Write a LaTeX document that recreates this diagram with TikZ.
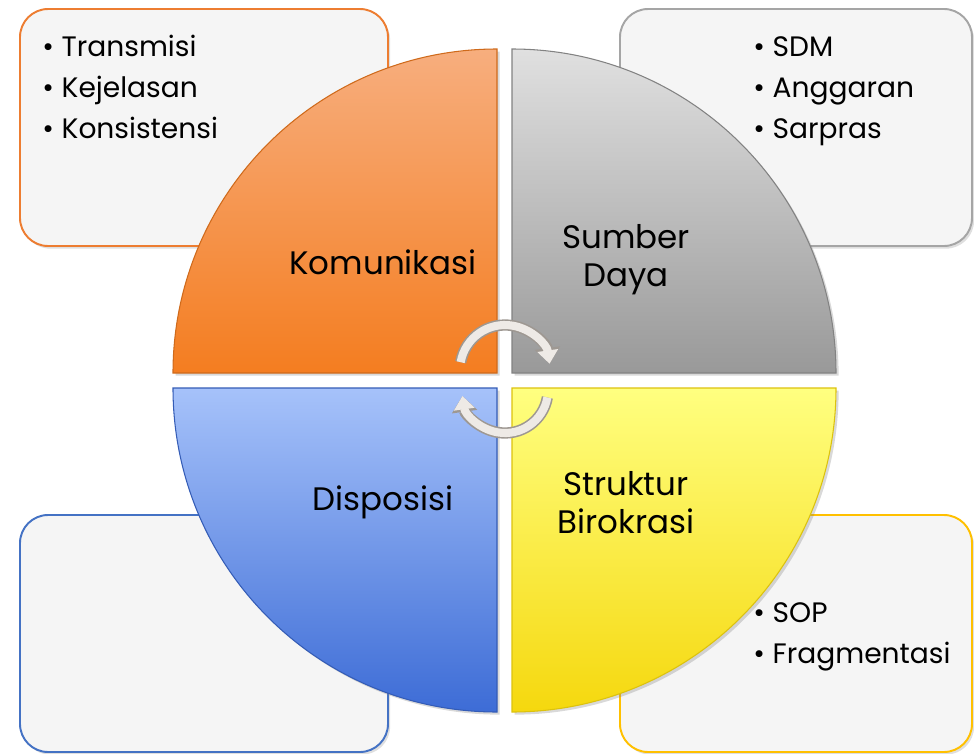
\documentclass[tikz,border=0pt]{standalone}
\usepackage{fontspec}
\setmainfont{Poppins}
\usetikzlibrary{arrows.meta,shadows}
\definecolor{boxfill}{HTML}{F5F5F5}
\definecolor{orB}{HTML}{ED7D31}
\definecolor{grB}{HTML}{A5A5A5}
\definecolor{blB}{HTML}{4472C4}
\definecolor{yeB}{HTML}{FFC000}
\definecolor{orT}{HTML}{F7AE7E}
\definecolor{orD}{HTML}{F47D20}
\definecolor{grT}{HTML}{E0E0E0}
\definecolor{grD}{HTML}{999999}
\definecolor{blT}{HTML}{A6C2FA}
\definecolor{blD}{HTML}{3D6CD6}
\definecolor{yeT}{HTML}{FFFF80}
\definecolor{yeD}{HTML}{F5D80E}
\definecolor{arrF}{HTML}{EEEAE6}
\definecolor{arrO}{HTML}{9E9892}
\tikzset{
  sidebox/.style={fill=boxfill, line width=1.1pt, rounded corners=16pt,
    drop shadow={opacity=0.25, shadow xshift=1.2pt, shadow yshift=-1.5pt}},
  wedge/.style={line width=0.6pt, drop shadow={opacity=0.3, shadow xshift=1.5pt, shadow yshift=-1.5pt}},
  lbl/.style={font=\fontsize{18.5}{21.6}\selectfont, align=center, inner sep=0pt, text=black},
  item/.style={font=\fontsize{16}{21.6}\selectfont, anchor=base west, inner sep=0pt, text=black},
  arrout/.style={line width=6.4pt, draw=arrO, -{Triangle[length=9pt,width=14pt,fill=arrO]}},
  arrin/.style={line width=4.6pt, draw=arrF, -{Triangle[length=7.6pt,width=11.5pt,fill=arrF]}}
}
\newcommand{\itm}[1]{\makebox[11pt][l]{•}#1}
\begin{document}
\begin{tikzpicture}[x=0.02cm,y=-0.02cm]
\useasboundingbox (0,0) rectangle (974,754);
% side boxes
\draw[sidebox, draw=orB] (20,9) rectangle (388,246);
\draw[sidebox, draw=grB] (620,9) rectangle (972,246);
\draw[sidebox, draw=blB] (20,515) rectangle (388,752);
\draw[sidebox, draw=yeB] (620,515) rectangle (972,752);
% wedges
\draw[wedge, draw=orD!85!black, top color=orT, bottom color=orD]
  (497,373) -- ++(-324,0) arc[start angle=180, end angle=270, radius=324] -- cycle;
\draw[wedge, draw=grD!85!black, top color=grT, bottom color=grD]
  (512,373) -- ++(0,-324) arc[start angle=270, end angle=360, radius=324] -- cycle;
\draw[wedge, draw=yeD!90!black, top color=yeT, bottom color=yeD]
  (512,388) -- ++(324,0) arc[start angle=0, end angle=90, radius=324] -- cycle;
\draw[wedge, draw=blD!85!black, top color=blT, bottom color=blD]
  (497,388) -- ++(0,324) arc[start angle=90, end angle=180, radius=324] -- cycle;
% wedge labels
\node[lbl] (kom) at (383,262) {Komunikasi};
\node[lbl] (sum) at (626,260) {Sumber\\Daya};
\node[lbl] (dis) at (383,502) {Disposisi};
\node[lbl] (str) at (626,503) {Struktur\\Birokrasi};
% bullet lists
\node[item] (t1) at (42,56) {\itm{Transmisi}};
\node[item] (t2) at (42,97) {\itm{Kejelasan}};
\node[item] (t3) at (42,138) {\itm{Konsistensi}};
\node[item] (s1) at (753,56) {\itm{SDM}};
\node[item] (s2) at (753,97) {\itm{Anggaran}};
\node[item] (s3) at (753,138) {\itm{Sarpras}};
\node[item] (b1) at (753,622) {\itm{SOP}};
\node[item] (b2) at (753,663) {\itm{Fragmentasi}};
% circular arrows
\coordinate (ca) at (505,370);
\coordinate (cb) at (505,390);
\draw[arrout] ([shift={(190:45)}]ca) arc[start angle=190, end angle=352, radius=45];
\draw[arrin] ([shift={(190:45)}]ca) arc[start angle=190, end angle=352, radius=45];
\draw[arrout] ([shift={(10:43)}]cb) arc[start angle=10, end angle=172, radius=43];
\draw[arrin] ([shift={(10:43)}]cb) arc[start angle=10, end angle=172, radius=43];
\end{tikzpicture}
\end{document}
